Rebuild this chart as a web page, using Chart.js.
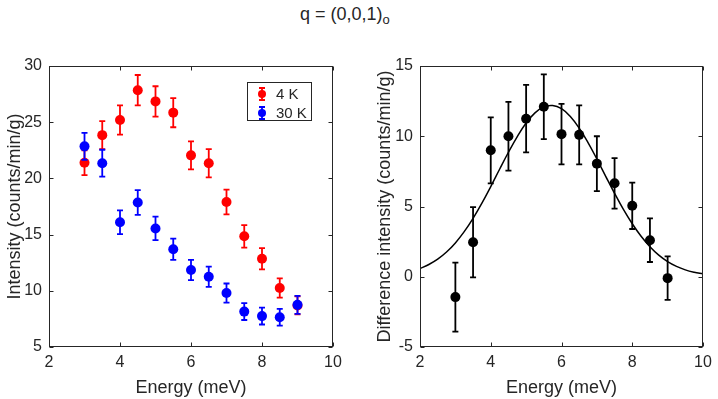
<!DOCTYPE html>
<html>
<head>
<meta charset="utf-8">
<script src="https://cdn.jsdelivr.net/npm/chart.js@4/dist/chart.umd.min.js"></script>
<style>
  body { margin: 0; background: #fff; }
  #wrap { position: relative; width: 718px; height: 399px; overflow: hidden; }
  .panel { position: absolute; top: 0; width: 359px; height: 399px; }
  #title { position: absolute; left: 300px; top: 3px; font: 18px "Liberation Sans", Arial, sans-serif; color: #262626; line-height: 22px; white-space: nowrap; }
  #title sub { font-size: 13px; vertical-align: -4px; }
</style>
</head>
<body>
<div id="wrap">
  <div id="title">q = (0,0,1)<sub>o</sub></div>
  <div class="panel" style="left:0"><canvas id="left" width="359" height="399"></canvas></div>
  <div class="panel" style="left:359px"><canvas id="right" width="359" height="399"></canvas></div>
</div>
<script>
// energies (meV)
const energy = [3, 3.5, 4, 4.5, 5, 5.5, 6, 6.5, 7, 7.5, 8, 8.5, 9];

// 4 K and 30 K intensities (counts/min/g) with error bars
const int4K = [21.4, 23.85, 25.2, 27.85, 26.85, 25.85, 22.05, 21.35, 17.9, 14.85, 12.85, 10.25, 8.7];
const err4K = [1.1, 1.25, 1.3, 1.35, 1.35, 1.3, 1.25, 1.25, 1.1, 1.0, 0.95, 0.85, 0.8];
const int30K = [22.85, 21.35, 16.1, 17.85, 15.55, 13.7, 11.85, 11.25, 9.8, 8.15, 7.75, 7.65, 8.75];
const err30K = [1.2, 1.2, 1.05, 1.1, 1.05, 0.95, 0.9, 0.9, 0.85, 0.75, 0.75, 0.75, 0.8];

// difference intensity
const diff = [-1.45, 2.45, 9.0, 10.0, 11.25, 12.1, 10.15, 10.1, 8.05, 6.65, 5.05, 2.6, -0.1];
const diffErr = [2.45, 2.5, 2.35, 2.45, 2.4, 2.3, 2.15, 2.1, 1.95, 1.8, 1.65, 1.55, 1.55];

// fitted curve
const fitEnergy = [2, 2.25, 2.5, 2.75, 3, 3.25, 3.5, 3.75, 4, 4.25, 4.5, 4.75, 5, 5.25, 5.5, 5.75,
  6, 6.25, 6.5, 6.75, 7, 7.25, 7.5, 7.75, 8, 8.25, 8.5, 8.75, 9, 9.25, 9.5, 9.75, 10];
const fitValue = [0.58, 0.87, 1.25, 1.76, 2.41, 3.21, 4.16, 5.24, 6.42, 7.65, 8.86, 9.98, 10.94, 11.66, 12.09, 12.19,
  11.96, 11.41, 10.58, 9.55, 8.38, 7.15, 5.94, 4.79, 3.77, 2.88, 2.14, 1.54, 1.08, 0.74, 0.49, 0.32, 0.2];

// tick labels
const xTicks = [2, 4, 6, 8, 10];
const leftYTicks = [5, 10, 15, 20, 25, 30];
const rightYTicks = [-5, 0, 5, 10, 15];

const AXIS = '#262626';
Chart.defaults.font.family = '"Liberation Sans", Arial, sans-serif';
Chart.defaults.color = AXIS;

const pts = (xs, ys) => xs.map((x, i) => ({ x: x, y: ys[i] }));

const errorBars = {
  id: 'errorBars',
  beforeDatasetDraw(chart, args) {
    const ds = chart.data.datasets[args.index];
    if (!ds.errors) return;
    const { ctx, scales: { x, y } } = chart;
    ctx.save();
    ctx.strokeStyle = ds.backgroundColor;
    ctx.lineWidth = ds.errWidth || 1.8;
    ds.data.forEach((p, i) => {
      const px = x.getPixelForValue(p.x);
      const top = y.getPixelForValue(p.y + ds.errors[i]);
      const bot = y.getPixelForValue(p.y - ds.errors[i]);
      ctx.beginPath();
      ctx.moveTo(px, top); ctx.lineTo(px, bot);
      ctx.moveTo(px - 3, top); ctx.lineTo(px + 3, top);
      ctx.moveTo(px - 3, bot); ctx.lineTo(px + 3, bot);
      ctx.stroke();
    });
    ctx.restore();
  }
};

// box around the plot with inward ticks on all sides
const boxTicks = {
  id: 'boxTicks',
  afterDraw(chart) {
    const { ctx, chartArea: a, scales: { x, y } } = chart;
    const L = Math.round(a.left) + 0.5, R = Math.round(a.right) - 0.5;
    const T = Math.round(a.top) + 0.5, B = Math.round(a.bottom) - 0.5;
    ctx.save();
    ctx.strokeStyle = AXIS;
    ctx.lineWidth = 1;
    ctx.strokeRect(L, T, R - L, B - T);
    ctx.beginPath();
    x.ticks.forEach(t => {
      const px = Math.round(x.getPixelForValue(t.value)) + 0.5;
      ctx.moveTo(px, B); ctx.lineTo(px, B - 4);
      ctx.moveTo(px, T); ctx.lineTo(px, T + 4);
    });
    y.ticks.forEach(t => {
      const py = Math.round(y.getPixelForValue(t.value)) + 0.5;
      ctx.moveTo(L, py); ctx.lineTo(L + 4, py);
      ctx.moveTo(R, py); ctx.lineTo(R - 4, py);
    });
    ctx.stroke();
    ctx.restore();
  }
};

const legendBox = {
  id: 'legendBox',
  afterDraw(chart) {
    const ctx = chart.ctx;
    ctx.save();
    ctx.fillStyle = '#fff';
    ctx.fillRect(247, 82, 64, 38);
    ctx.strokeStyle = AXIS;
    ctx.lineWidth = 1;
    ctx.strokeRect(247.5, 82.5, 64, 38);
    const items = chart.data.datasets.filter(d => d.errors);
    items.forEach((d, i) => {
      const cy = 94 + i * 19, cx = 262;
      ctx.strokeStyle = d.backgroundColor;
      ctx.lineWidth = 1.8;
      ctx.beginPath();
      ctx.moveTo(cx, cy - 6); ctx.lineTo(cx, cy + 6);
      ctx.moveTo(cx - 3, cy - 6); ctx.lineTo(cx + 3, cy - 6);
      ctx.moveTo(cx - 3, cy + 6); ctx.lineTo(cx + 3, cy + 6);
      ctx.stroke();
      ctx.fillStyle = d.backgroundColor;
      ctx.beginPath();
      ctx.arc(cx, cy, 4, 0, Math.PI * 2);
      ctx.fill();
      ctx.fillStyle = AXIS;
      ctx.font = '15px "Liberation Sans", Arial, sans-serif';
      ctx.textBaseline = 'middle';
      ctx.fillText(d.label, 276, cy + 1);
    });
    ctx.restore();
  }
};

function axes(yMin, yMax, yTicks, yW, yTitle, titlePad) {
  return {
    x: {
      type: 'linear', min: 2, max: 10,
      afterFit: s => { s.height = 52; },
      afterBuildTicks: s => { s.ticks = xTicks.map(v => ({ value: v })); },
      grid: { display: false, drawTicks: false },
      border: { display: false },
      ticks: { font: { size: 16 }, padding: 6, maxRotation: 0 },
      title: { display: true, text: 'Energy (meV)', font: { size: 18 }, padding: { top: 0, bottom: 0 } }
    },
    y: {
      type: 'linear', min: yMin, max: yMax,
      afterFit: s => { s.width = yW; },
      afterBuildTicks: s => { s.ticks = yTicks.map(v => ({ value: v })); },
      grid: { display: false, drawTicks: false },
      border: { display: false },
      ticks: { font: { size: 16 }, padding: 7 },
      title: { display: true, text: yTitle, font: { size: 18 }, padding: { top: titlePad, bottom: 0 } }
    }
  };
}

new Chart(document.getElementById('left'), {
  type: 'scatter',
  data: {
    datasets: [
      { label: '4 K', data: pts(energy, int4K), errors: err4K, backgroundColor: '#ff0000',
        pointRadius: 5, pointBorderWidth: 0, order: 2 },
      { label: '30 K', data: pts(energy, int30K), errors: err30K, backgroundColor: '#0000ff',
        pointRadius: 5, pointBorderWidth: 0, order: 1 }
    ]
  },
  options: {
    responsive: false, animation: false, devicePixelRatio: 1,
    layout: { padding: { top: 66, right: 26, left: 0, bottom: 0 } },
    plugins: { legend: { display: false }, tooltip: { enabled: false } },
    scales: axes(5, 30, leftYTicks, 49, 'Intensity (counts/min/g)', 4)
  },
  plugins: [errorBars, boxTicks, legendBox]
});

new Chart(document.getElementById('right'), {
  type: 'scatter',
  data: {
    datasets: [
      { label: 'difference', data: pts(energy, diff), errors: diffErr, backgroundColor: '#000',
        errWidth: 1.8, pointRadius: 5, pointBorderWidth: 0, order: 1 },
      { label: 'fit', data: pts(fitEnergy, fitValue), showLine: true, borderColor: '#000',
        borderWidth: 1.5, pointRadius: 0, tension: 0.4, order: 2 }
    ]
  },
  options: {
    responsive: false, animation: false, devicePixelRatio: 1,
    layout: { padding: { top: 66, right: 15, left: 0, bottom: 0 } },
    plugins: { legend: { display: false }, tooltip: { enabled: false } },
    scales: axes(-5, 15, rightYTicks, 61, 'Difference intensity (counts/min/g)', 15)
  },
  plugins: [errorBars, boxTicks]
});
</script>
</body>
</html>
